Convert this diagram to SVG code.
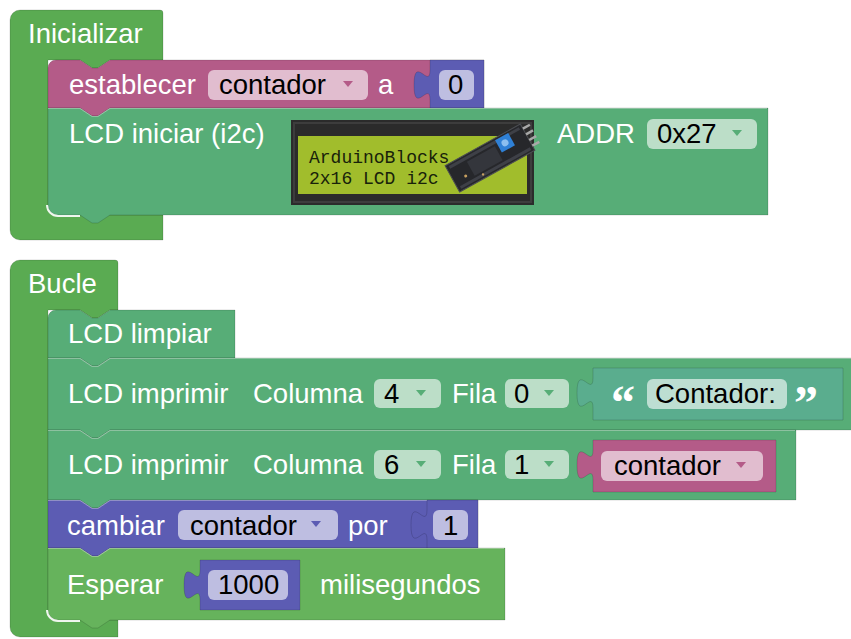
<svg xmlns="http://www.w3.org/2000/svg" width="851" height="639" viewBox="0 0 851 639">
<style>
  text { font-family: "Liberation Sans", Arial, sans-serif; font-size: 27.5px; }
  .lbl { fill: #ffffff; }
  .ftx { fill: #000000; }
  .fld { fill: #ffffff; fill-opacity: 0.6; }
  .hat { fill: #5aab52; }
  .lcd { fill: #57ad77; }
  .wait { fill: #66b35c; }
  .txt { fill: #5aad8e; }
  .var { fill: #b45b88; }
  .num { fill: #5c5cb3; }
  .edge { stroke: #000000; stroke-opacity: 0.14; stroke-width: 1; }
  .hl { fill: none; stroke: #ffffff; stroke-opacity: 0.35; stroke-width: 1; }
  .corner { fill: none; stroke: #ffffff; stroke-opacity: 0.9; stroke-width: 2; }
  .quote { font-family: "Liberation Serif", serif; font-weight: bold; font-size: 48px; fill: #ffffff; }
  .lcdtext { font-family: "Liberation Mono", monospace; font-size: 18px; fill: #18220a; }
  .arrG { fill: #57ad77; }
  .arrP { fill: #b45b88; }
  .arrV { fill: #5c5cb3; }
</style>

<!-- ===== Inicializar ===== -->
<g id="inicializar">
  <path class="hat edge" d="M10,20 a10,10 0 0 1 10,-10 H160 a3,3 0 0 1 3,3 V60 H110 l-12,8 h-6 l-12,-8 H48 V205 a10,10 0 0 0 10,10 H163 V240 H20 a10,10 0 0 1 -10,-10 Z"/>
  <text class="lbl" x="28" y="43">Inicializar</text>
</g>

<g id="establecer">
  <path class="var edge" d="M48,68 a8,8 0 0 1 8,-8 H80 l12,8 h6 l12,-8 H484 V108 H110 l-12,8 h-6 l-12,-8 H48 Z"/>
  <text class="lbl" x="69" y="94">establecer</text>
  <rect class="fld" x="208" y="70" width="160" height="30" rx="6"/>
  <text class="ftx" x="219" y="94">contador</text>
  <polygon class="arrP" points="343,81 353,81 348,87"/>
  <text class="lbl" x="378" y="94">a</text>
</g>

<g id="num-0">
  <path class="num edge" d="M430,60 H484 V108 H430 V100 C430,80 414,116 414,85 C414,54 430,90 430,70 Z"/>
  <rect class="fld" x="439" y="70" width="35" height="30" rx="6"/>
  <text class="ftx" x="448" y="94">0</text>
</g>

<g id="lcd-iniciar">
  <path class="lcd edge" d="M48,108 H80 l12,8 h6 l12,-8 H768 V215 H110 l-12,8 h-6 l-12,-8 H58 a10,10 0 0 1 -10,-10 Z"/>
  <path class="hl" d="M48,108.5 H80 l12,8 h6 l12,-8 H767"/>
  <text class="lbl" x="69" y="143">LCD iniciar (i2c)</text>
  <!-- 16x2 display picture -->
  <rect x="291" y="120" width="243" height="85" fill="#2b2b2b"/>
  <rect x="294" y="123" width="237" height="79" fill="none" stroke="#3d3d3d" stroke-width="2"/>
  <rect x="298" y="136" width="229" height="58" fill="#a1bd2c"/>
  <text class="lcdtext" x="309" y="163">ArduinoBlocks</text>
  <text class="lcdtext" x="309" y="184">2x16 LCD i2c</text>
  <!-- I2C backpack board -->
  <g transform="translate(490,158) rotate(-29)">
    <rect x="-43" y="-15" width="86" height="30" fill="#26272b" stroke="#4b4d52" stroke-width="1"/>
    <rect x="-22" y="-8" width="32" height="16" fill="#34363c"/>
    <rect x="-40" y="-13" width="80" height="3" fill="#3e4047"/>
    <rect x="-40" y="10" width="80" height="3" fill="#3e4047"/>
    <rect x="13" y="-13" width="15" height="14" fill="#2f80d6"/>
    <circle cx="20.5" cy="-6" r="3.5" fill="#8cbff0"/>
    <rect x="43" y="-11" width="8" height="2.5" fill="#a8a8a8"/>
    <rect x="43" y="-4.5" width="8" height="2.5" fill="#a8a8a8"/>
    <rect x="43" y="2" width="8" height="2.5" fill="#a8a8a8"/>
    <rect x="43" y="8.5" width="8" height="2.5" fill="#a8a8a8"/>
    <circle cx="-30" cy="4" r="1.5" fill="#c8a060"/>
    <circle cx="-14" cy="11" r="1.2" fill="#c8a060"/>
  </g>
  <text class="lbl" x="557" y="143">ADDR</text>
  <rect class="fld" x="647" y="119" width="110" height="30" rx="6"/>
  <text class="ftx" x="657" y="143">0x27</text>
  <polygon class="arrG" points="732,130 742,130 737,136"/>
</g>
<path class="corner" d="M47,205 a11,11 0 0 0 11,11 H80"/>

<!-- ===== Bucle ===== -->
<g id="bucle">
  <path class="hat edge" d="M10,270 a10,10 0 0 1 10,-10 H115 a3,3 0 0 1 3,3 V310 H110 l-12,8 h-6 l-12,-8 H48 V610 a10,10 0 0 0 10,10 H118 V637 H20 a10,10 0 0 1 -10,-10 Z"/>
  <text class="lbl" x="28" y="293">Bucle</text>
</g>

<g id="lcd-limpiar">
  <path class="lcd edge" d="M48,318 a8,8 0 0 1 8,-8 H80 l12,8 h6 l12,-8 H235 V358 H110 l-12,8 h-6 l-12,-8 H48 Z"/>
  <text class="lbl" x="68" y="343">LCD limpiar</text>
</g>

<g id="lcd-imprimir-1">
  <path class="lcd edge" d="M48,358 H80 l12,8 h6 l12,-8 H852 V430 H110 l-12,8 h-6 l-12,-8 H48 Z"/>
  <path class="hl" d="M48,358.5 H80 l12,8 h6 l12,-8 H851"/>
  <text class="lbl" x="68" y="403">LCD imprimir</text>
  <text class="lbl" x="253" y="403">Columna</text>
  <rect class="fld" x="374" y="379" width="67" height="29" rx="6"/>
  <text class="ftx" x="384" y="403">4</text>
  <polygon class="arrG" points="416,390 426,390 421,396"/>
  <text class="lbl" x="452" y="403">Fila</text>
  <rect class="fld" x="505" y="379" width="64" height="29" rx="6"/>
  <text class="ftx" x="514" y="403">0</text>
  <polygon class="arrG" points="544,390 554,390 549,396"/>
</g>

<g id="texto-contador">
  <path class="txt edge" d="M593,368 H843 V420 H593 V408 C593,388 577,424 577,393 C577,362 593,398 593,378 Z"/>
  <text class="quote" x="611" y="419">“</text>
  <rect class="fld" x="647" y="379" width="140" height="30" rx="6"/>
  <text class="ftx" x="655" y="403">Contador:</text>
  <text class="quote" x="794" y="419">”</text>
</g>

<g id="lcd-imprimir-2">
  <path class="lcd edge" d="M48,430 H80 l12,8 h6 l12,-8 H796 V500 H110 l-12,8 h-6 l-12,-8 H48 Z"/>
  <path class="hl" d="M48,430.5 H80 l12,8 h6 l12,-8 H795"/>
  <text class="lbl" x="68" y="474">LCD imprimir</text>
  <text class="lbl" x="253" y="474">Columna</text>
  <rect class="fld" x="374" y="450" width="67" height="29" rx="6"/>
  <text class="ftx" x="384" y="474">6</text>
  <polygon class="arrG" points="416,461 426,461 421,467"/>
  <text class="lbl" x="452" y="474">Fila</text>
  <rect class="fld" x="505" y="450" width="64" height="29" rx="6"/>
  <text class="ftx" x="514" y="474">1</text>
  <polygon class="arrG" points="544,461 554,461 549,467"/>
</g>

<g id="var-contador">
  <path class="var edge" d="M593,440 H776 V492 H593 V480 C593,460 577,496 577,465 C577,434 593,470 593,450 Z"/>
  <rect class="fld" x="601" y="451" width="162" height="30" rx="6"/>
  <text class="ftx" x="614" y="475">contador</text>
  <polygon class="arrP" points="736,462 746,462 741,468"/>
</g>

<g id="cambiar">
  <path class="num edge" d="M48,500 H80 l12,8 h6 l12,-8 H478 V548 H110 l-12,8 h-6 l-12,-8 H48 Z"/>
  <path class="hl" d="M48,500.5 H80 l12,8 h6 l12,-8 H477"/>
  <text class="lbl" x="67" y="535">cambiar</text>
  <rect class="fld" x="178" y="510" width="160" height="30" rx="6"/>
  <text class="ftx" x="190" y="535">contador</text>
  <polygon class="arrV" points="311,521 321,521 316,527"/>
  <text class="lbl" x="348" y="535">por</text>
</g>

<g id="num-1">
  <path class="num edge" d="M427,500 H478 V548 H427 V540 C427,520 411,556 411,525 C411,494 427,530 427,510 Z"/>
  <rect class="fld" x="433" y="510" width="35" height="30" rx="6"/>
  <text class="ftx" x="443" y="535">1</text>
</g>

<g id="esperar">
  <path class="wait edge" d="M48,548 H80 l12,8 h6 l12,-8 H505 V620 H110 l-12,8 h-6 l-12,-8 H58 a10,10 0 0 1 -10,-10 Z"/>
  <path class="hl" d="M48,548.5 H80 l12,8 h6 l12,-8 H504"/>
  <text class="lbl" x="67" y="594">Esperar</text>
  <text class="lbl" x="320" y="594">milisegundos</text>
</g>

<g id="num-1000">
  <path class="num edge" d="M200,560 H300 V610 H200 V600 C200,580 184,616 184,585 C184,554 200,590 200,570 Z"/>
  <rect class="fld" x="208" y="570" width="80" height="30" rx="6"/>
  <text class="ftx" x="218" y="594">1000</text>
</g>
<path class="corner" d="M47,610 a11,11 0 0 0 11,11 H80"/>

<!-- blocks snap directly to each other, so there are no connector lines -->
<g id="connectors"></g>
</svg>
